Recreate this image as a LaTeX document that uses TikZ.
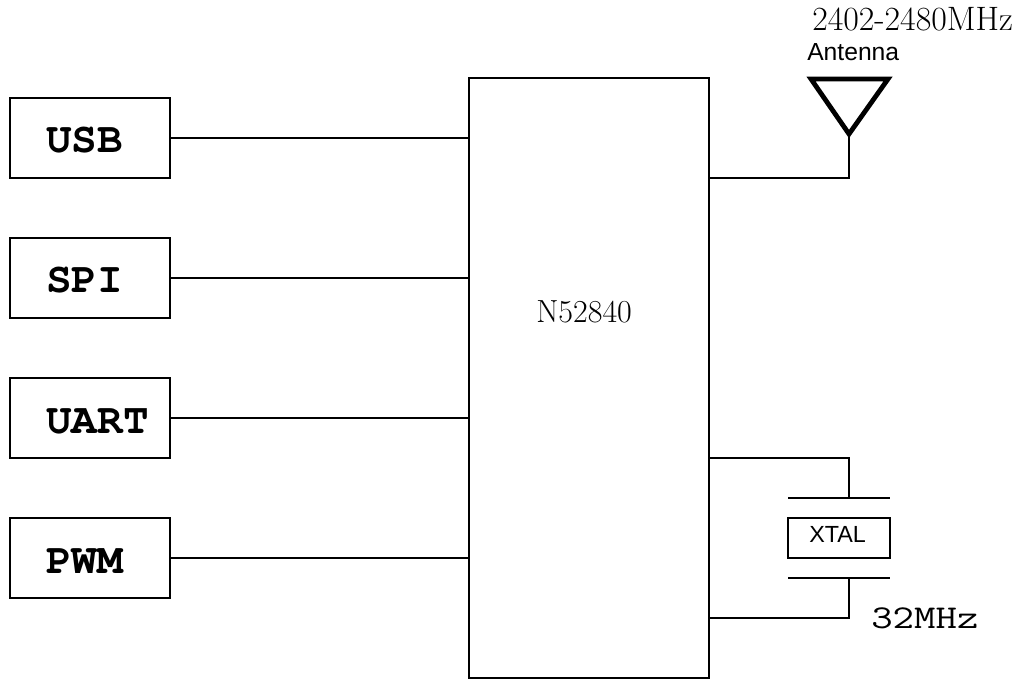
\documentclass[tikz,border=0pt]{standalone}
\usepackage{fontspec}
\newfontfamily\sansf{Liberation Sans}
\newfontfamily\courb{texgyrecursor-bold}[Extension=.otf]
\begin{document}
\begin{tikzpicture}[x=0.75pt,y=-0.75pt,
  ifbox/.style={draw, line width=1.5pt, minimum width=120pt, minimum height=60pt, inner sep=0pt},
  chipbox/.style={draw, line width=1.5pt, minimum width=180pt, minimum height=450pt, inner sep=0pt},
  xtalbox/.style={draw, line width=1.1pt, minimum width=76.5pt, minimum height=30pt, inner sep=0pt},
  wire/.style={line width=0.9pt},
  plate/.style={line width=1.1pt},
  iflabel/.style={font=\courb\fontsize{32pt}{32pt}\selectfont, anchor=base west, inner sep=0pt},
  txt/.style={anchor=base west, inner sep=0pt}]
\fill[white] (0,0) rectangle (1023,680);
\useasboundingbox (0,0) rectangle (1023,680);
% chip
\node[chipbox] (chip) at (589,378) {};
\node[txt, font=\fontsize{24pt}{24pt}\selectfont] (chiplbl) at (536,323) {N52840};
% interface boxes
\node[ifbox] (usb)  at (89.5,138) {};
\node[ifbox] (spi)  at (89.5,278) {};
\node[ifbox] (uart) at (89.5,418) {};
\node[ifbox] (pwm)  at (89.5,558) {};
\node[iflabel] (usbl)  at (46,153) {USB};
\node[iflabel] (spil)  at (46,293) {SPI};
\node[iflabel] (uartl) at (46,433) {UART};
\node[iflabel] (pwml)  at (46,573) {PWM};
\foreach \n in {usb,spi,uart,pwm}
  \draw[wire] (\n.east) -- (\n.east -| chip.west);
% antenna
\coordinate (antv) at (849,134);
\coordinate (antl) at (811,79);
\coordinate (antr) at (888,79);
\coordinate (antc) at (849,178);
\draw[line width=3.6pt, line join=miter] (antl) -- (antr) -- (antv) -- cycle;
\draw[wire] (antc -| chip.east) -- (antc) -- (antv);
\node[txt, font=\fontsize{25.4pt}{25.4pt}\selectfont] (freq) at (812,31) {2402-2480MHz};
\node[txt, font=\sansf\fontsize{18.5pt}{18.5pt}\selectfont] (antlbl) at (807,61) {Antenna};
% crystal
\node[xtalbox] (xtal) at (839,538) {};
\node[txt, font=\sansf\fontsize{17.5pt}{17.5pt}\selectfont] (xtall) at (809,542) {XTAL};
\coordinate (pt1) at (788,498);
\coordinate (pt2) at (890,498);
\coordinate (pb1) at (788,578);
\coordinate (pb2) at (890,578);
\coordinate (ptm) at (849,498);
\coordinate (pbm) at (849,578);
\coordinate (j1) at (849,458);
\coordinate (j2) at (849,618);
\draw[plate] (pt1) -- (pt2);
\draw[plate] (pb1) -- (pb2);
\draw[wire] (j1 -| chip.east) -- (j1) -- (ptm);
\draw[wire] (pbm) -- (j2) -- (j2 -| chip.east);
\node[txt, font=\ttfamily\fontsize{25pt}{25pt}\selectfont] (mhz) at (871,628) {\scalebox{1.25}[1]{32MHz}};
\end{tikzpicture}
\end{document}
